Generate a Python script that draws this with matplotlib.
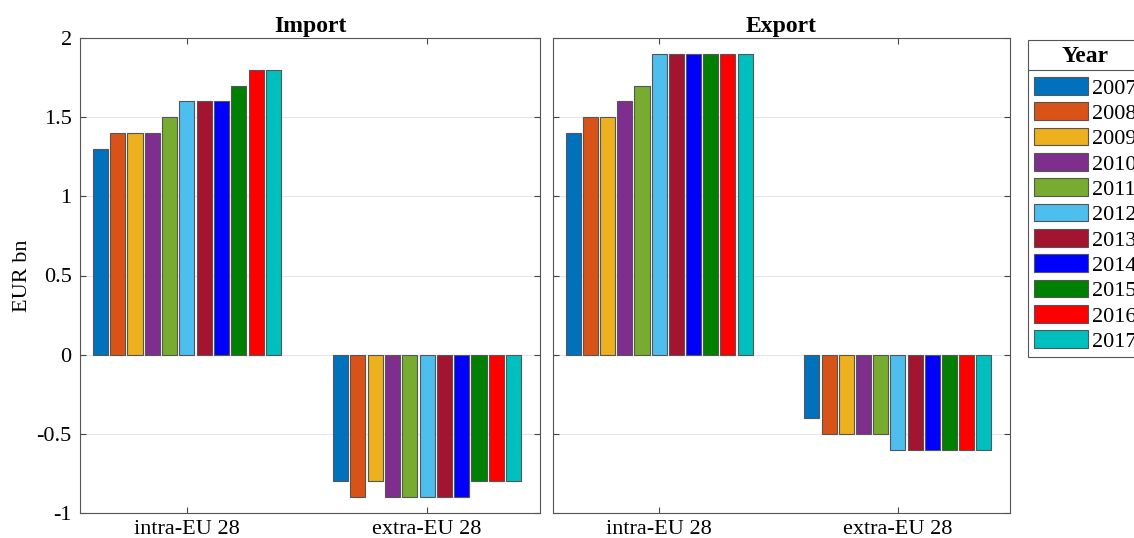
import numpy as np
import matplotlib.pyplot as plt
from matplotlib.patches import Patch
from matplotlib.lines import Line2D

plt.rcParams["font.family"] = ["Liberation Serif", "DejaVu Serif"]

groups = ["intra-EU 28", "extra-EU 28"]
years = ["2007", "2008", "2009", "2010", "2011", "2012",
         "2013", "2014", "2015", "2016", "2017"]
colors = ["#0072BD", "#D95319", "#EDB120", "#7E2F8E", "#77AC30", "#4DBEEE",
          "#A2142F", "#0000FF", "#008000", "#FF0000", "#00BFBF"]

import_intra = [1.3, 1.4, 1.4, 1.4, 1.5, 1.6, 1.6, 1.6, 1.7, 1.8, 1.8]
import_extra = [-0.8, -0.9, -0.8, -0.9, -0.9, -0.9, -0.9, -0.9, -0.8, -0.8, -0.8]
export_intra = [1.4, 1.5, 1.5, 1.6, 1.7, 1.9, 1.9, 1.9, 1.9, 1.9, 1.9]
export_extra = [-0.4, -0.5, -0.5, -0.5, -0.5, -0.6, -0.6, -0.6, -0.6, -0.6, -0.6]

fig = plt.figure(figsize=(11.34, 5.38), dpi=100)
W, H = 1134, 538
ax_imp = fig.add_axes([80 / W, 1 - 513 / H, 460 / W, 475 / H])
ax_exp = fig.add_axes([553 / W, 1 - 513 / H, 457 / W, 475 / H])

n = len(years)
step = 0.072
bw = 0.063
offsets = (np.arange(n) - (n - 1) / 2) * step


def draw(ax, intra, extra, title, ylabels):
    vals = np.array([intra, extra])
    for i in range(n):
        ax.bar(np.arange(1, 3) + offsets[i], vals[:, i], width=bw,
               color=colors[i], edgecolor="#555555", linewidth=0.8, zorder=3)
    ax.set_xlim(0.555, 2.47)
    ax.set_ylim(-1, 2)
    ax.set_xticks([1, 2])
    ax.set_xticklabels(groups, fontsize=16)
    ax.set_yticks(np.arange(-1, 2.01, 0.5))
    if ylabels:
        ax.set_yticklabels(["-1", "-0.5", "0", "0.5", "1", "1.5", "2"], fontsize=16)
    else:
        ax.set_yticklabels([])
    ax.grid(True, axis="y", color="#e6e6e6", linewidth=0.8, zorder=0)
    ax.tick_params(direction="in", top=True, right=True, length=4,
                   color="#444444", pad=6)
    ax.tick_params(axis="x", pad=5)
    for s in ax.spines.values():
        s.set_color("#555555")
        s.set_linewidth(0.8)
    ax.set_title(title, fontsize=17, fontweight="bold", pad=4)


draw(ax_imp, import_intra, import_extra, "Import", True)
draw(ax_exp, export_intra, export_extra, "Export", False)
ax_imp.set_ylabel("EUR bn", fontsize=16, labelpad=3)

handles = [Patch(facecolor=c, edgecolor="#555555", linewidth=0.8) for c in colors]
leg = fig.legend(handles, years, loc="upper left",
                 bbox_to_anchor=(1028 / W, 1 - 40 / H), title="Year",
                 fontsize=16, title_fontproperties={"weight": "bold", "size": 17},
                 handlelength=2.45, handleheight=0.85, handletextpad=0.2,
                 labelspacing=0.17, borderaxespad=0, fancybox=False,
                 framealpha=1, edgecolor="#555555", borderpad=0.25)
leg.get_frame().set_linewidth(0.8)
# extra gap between the title and the entries (separator line sits there)
leg._legend_box.sep = 7.5
fig.add_artist(Line2D([1028 / W, 1.0], [1 - 70 / H, 1 - 70 / H],
                      transform=fig.transFigure, color="#555555",
                      linewidth=0.8, zorder=10))

fig.savefig("out.png", dpi=100)
